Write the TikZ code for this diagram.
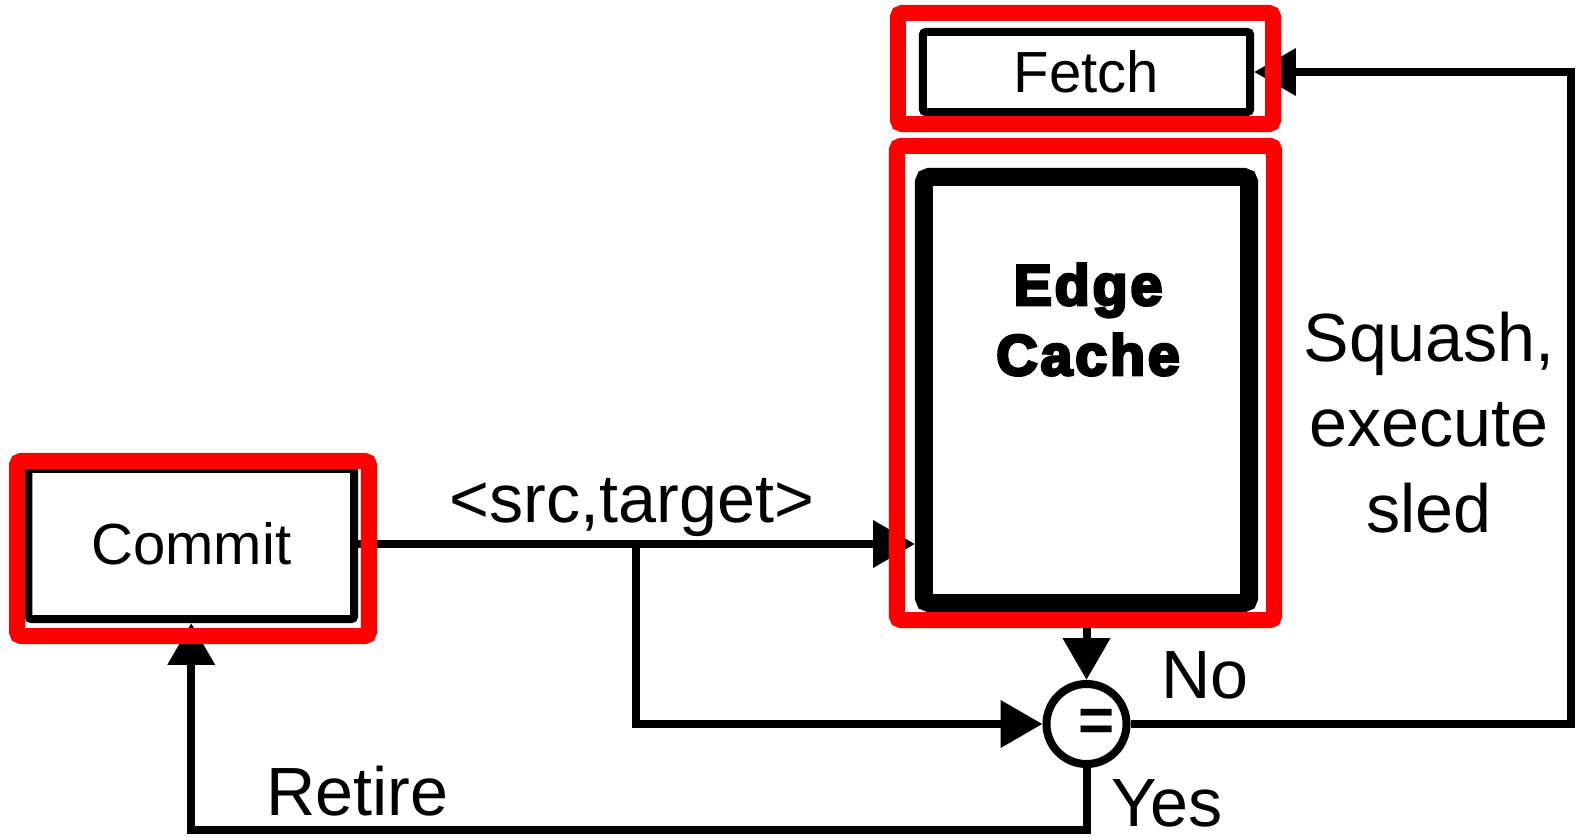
\documentclass[tikz,border=0pt]{standalone}
\usepackage{fontspec}
\setmainfont{Liberation Sans}
\newfontfamily\heavyfont{Liberation Sans Bold}[FakeBold=5,LetterSpace=5]
\newfontfamily\boldfont{Liberation Sans Bold}
\usetikzlibrary{arrows.meta}
\begin{document}
\begin{tikzpicture}[x=0.01cm,y=-0.01cm,
  blk/.style={draw=black, line width=2.28pt, rectangle, inner sep=0pt, fill=white, rounded corners=0.8pt},
  hl/.style={draw=red, line width=4.55pt, rectangle, inner sep=0pt, rounded corners=1.2pt},
  arr/.style={-{Triangle[length=11.9pt,width=13pt]}, line width=2.28pt},
  boxfont/.style={font=\fontsize{16.5}{20}\selectfont},
  lbl/.style={font=\fontsize{19.4}{24.2}\selectfont, inner sep=0pt},
  ecfont/.style={font=\heavyfont\fontsize{16.3}{19.9}\selectfont, inner sep=0pt},
  eqc/.style={draw=black, circle, line width=2.28pt, minimum size=0.8cm, inner sep=0pt, fill=white},
  eqfont/.style={font=\boldfont\fontsize{17.6}{20}\selectfont, inner sep=0pt},
]
\useasboundingbox (0,0) rectangle (1576,836);

% boxes
\node[blk, minimum width=3.255cm, minimum height=1.5cm, boxfont] (commit) at (191.25,544) {Commit};
\node[blk, minimum width=3.27cm, minimum height=0.8cm, boxfont] (fetch) at (1086.5,72) {Fetch};
\node[blk, line width=5.12pt, minimum width=3.25cm, minimum height=4.26cm, rounded corners=1.5pt] (ec) at (1086.5,390) {};
\node[ecfont, align=center, anchor=base] (ectext) at (1088,375) {Edge\\Cache};
\node[eqc] (eq) at (1086.5,724) {};
\node[eqfont] (eqsign) at (1097,725.5) {=};

% connectors
\coordinate (j) at (636,544);
\coordinate (rc) at (1571,724);
\coordinate (bl) at (191.25,830);
\draw[arr] (commit.east) -- (commit.east -| ec.west);
\draw[arr] (j) |- (eq.west);
\draw[arr] (ec.south) -- (eq.north);
\draw[arr] (eq.east) -- (rc) |- (fetch.east);
\draw[arr] (eq.south) |- (bl) -- (commit.south);

% highlight boxes
\node[hl, minimum width=3.517cm, minimum height=1.75cm] (commithl) at (193,548.5) {};
\node[hl, minimum width=3.75cm, minimum height=1.11cm] (fetchhl) at (1085.5,68.5) {};
\node[hl, minimum width=3.77cm, minimum height=4.74cm] (echl) at (1085.5,383) {};

% labels
\node[lbl, anchor=base] (srclbl) at (632,522) {<src,target>};
\node[lbl, anchor=base] (retire) at (357,815) {Retire};
\node[lbl, anchor=base] (no) at (1205,698) {No};
\node[lbl, anchor=base] (yes) at (1167,826) {Yes};
\node[lbl, anchor=base, align=center] (squash) at (1429,532) {Squash,\\execute\\sled};
\end{tikzpicture}
\end{document}
